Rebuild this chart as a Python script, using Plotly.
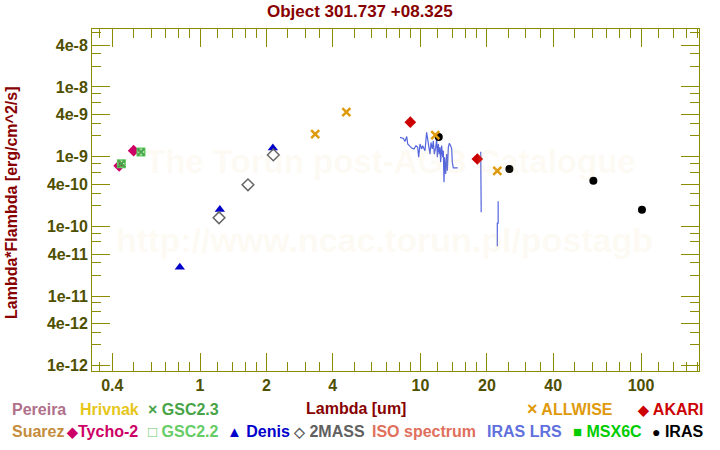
import plotly.graph_objects as go

# ---------------- data ----------------
tycho_lam = [0.43, 0.50]
tycho_f = [7.4e-10, 1.22e-9]
gsc23_lam = [0.44, 0.54]
gsc23_f = [7.9e-10, 1.17e-9]
gsc22_lam = [0.44, 0.54]
gsc22_f = [7.9e-10, 1.17e-9]
denis_lam = [0.81, 1.23, 2.14]
denis_f = [2.6e-11, 1.75e-10, 1.33e-9]
twomass_lam = [1.22, 1.65, 2.15]
twomass_f = [1.33e-10, 3.95e-10, 1.06e-9]
allwise_lam = [3.33, 4.61, 11.67, 22.3]
allwise_f = [2.11e-9, 4.35e-9, 2.04e-9, 6.25e-10]
akari_lam = [8.99, 18.1]
akari_f = [3.13e-9, 9.27e-10]
iras_lam = [12.1, 25.3, 60.8, 101]
iras_f = [1.91e-9, 6.67e-10, 4.5e-10, 1.73e-10]

lrs_lam = [8.07, 8.36, 8.51, 8.66, 8.75, 8.90, 9.12, 9.34, 9.54, 9.71, 9.81, 9.95,
           10.12, 10.23, 10.37, 10.48, 10.66, 10.85, 11.04, 11.16, 11.31, 11.43,
           11.55, 11.72, 11.84, 11.92, 12.05, 12.17, 12.26, 12.34, 12.47, 12.60,
           12.69, 12.78, 12.87, 13.01, 13.14, 13.24, 13.37, 13.51, 13.70, 13.85,
           13.94, 14.09, 14.75, None,
           18.75, 18.78, 18.85, None,
           22.5, 22.5, 22.3, 22.3]
lrs_f = [1.89e-9, 1.83e-9, 1.66e-9, 1.95e-9, 1.52e-9, 1.44e-9, 1.33e-9, 1.29e-9,
         1.44e-9, 1.36e-9, 9.8e-10, 1.52e-9, 1.29e-9, 1.44e-9, 1.29e-9, 1.22e-9,
         2.23e-9, 1.44e-9, 1.09e-9, 1.60e-9, 1.29e-9, 1.69e-9, 1.09e-9, 1.36e-9,
         1.79e-9, 9.8e-10, 1.52e-9, 1.09e-9, 1.36e-9, 8.3e-10, 1.44e-9, 9.8e-10,
         1.22e-9, 4.3e-10, 9.8e-10, 5.65e-10, 1.09e-9, 6.3e-10, 1.36e-9, 1.55e-9,
         1.44e-9, 1.29e-9, 8.3e-10, 6.9e-10, 6.9e-10, None,
         1.18e-9, 3.95e-10, 1.6e-10, None,
         2.3e-10, 1.11e-10, 1.11e-10, 5.2e-11]

x_major = [0.4, 1, 2, 4, 10, 20, 40, 100]
x_major_text = ["0.4", "1", "2", "4", "10", "20", "40", "100"]
x_minor = [0.35, 0.5, 0.6, 0.7, 0.8, 0.9, 1.2, 1.4, 1.6, 1.8, 2.5, 3, 3.5, 5, 6, 7, 8, 9,
           12, 14, 16, 18, 25, 30, 35, 50, 60, 70, 80, 90, 120, 140, 160, 180]
y_major = [4e-8, 1e-8, 4e-9, 1e-9, 4e-10, 1e-10, 4e-11, 1e-11, 4e-12, 1e-12]
y_major_text = ["4e-8", "1e-8", "4e-9", "1e-9", "4e-10", "1e-10", "4e-11", "1e-11",
                "4e-12", "1e-12"]
y_minor = []
for e in range(-13, -7):
    for m in (2, 3, 6, 8):
        y_minor.append(m * 10.0 ** e)

# ---------------- styling ----------------
FONT = "Liberation Sans"
OLIVE = "#8c8c00"
TICKC = "#4f4f00"
DRED = "#880000"
WATER = "rgba(225,205,135,0.10)"

L, R, T, B = 92, 699, 29, 371
W, H = 720, 450


def px(x):
    return (x - L) / (R - L)


def py(y):
    return (B - y) / (B - T)


fig = go.Figure()

fig.add_trace(go.Scatter(x=lrs_lam, y=lrs_f, mode="lines",
                         line=dict(color="#5566dd", width=1.2), connectgaps=False))

fig.add_trace(go.Scatter(x=tycho_lam, y=tycho_f, mode="markers",
                         marker=dict(symbol="diamond", size=9, color="#cc0066")))
fig.add_trace(go.Scatter(x=gsc22_lam, y=gsc22_f, mode="markers",
                         marker=dict(symbol="square-open", size=7, color="#66cc66",
                                     line=dict(width=2, color="#66cc66"))))
fig.add_trace(go.Scatter(x=gsc23_lam, y=gsc23_f, mode="markers",
                         marker=dict(symbol="x-thin", size=7, color="#47a447",
                                     line=dict(width=2, color="#47a447"))))
fig.add_trace(go.Scatter(x=denis_lam, y=denis_f, mode="markers",
                         marker=dict(symbol="triangle-up", size=9, color="#0000cc")))
fig.add_trace(go.Scatter(x=twomass_lam, y=twomass_f, mode="markers",
                         marker=dict(symbol="diamond-open", size=9, color="#666666",
                                     line=dict(width=1.5, color="#666666"))))
fig.add_trace(go.Scatter(x=iras_lam, y=iras_f, mode="markers",
                         marker=dict(symbol="circle", size=8, color="#000000")))
fig.add_trace(go.Scatter(x=allwise_lam, y=allwise_f, mode="markers",
                         marker=dict(symbol="x-thin", size=8, color="#df9a0c",
                                     line=dict(width=2.5, color="#df9a0c"))))
fig.add_trace(go.Scatter(x=akari_lam, y=akari_f, mode="markers",
                         marker=dict(symbol="diamond", size=9, color="#cc0000")))

ann = []
# watermark (semi-transparent so it does not hide the marks)
ann.append(dict(x=px(390), y=py(161), xref="paper", yref="paper", showarrow=False,
                text="The Torun post-AGB Catalogue",
                font=dict(family=FONT, size=33, color=WATER, weight="bold")))
ann.append(dict(x=px(384), y=py(261), xref="paper", yref="paper", showarrow=False,
                text="http://www.ncac.torun.pl/postagb",
                font=dict(family=FONT, size=34, color=WATER, weight="bold")))
# title
ann.append(dict(x=px(360), y=py(12), xref="paper", yref="paper", showarrow=False,
                text="Object 301.737 +08.325", xanchor="center", yanchor="middle",
                font=dict(family=FONT, size=17, color=DRED, weight="bold")))
# axis titles
ann.append(dict(x=px(356), y=py(408), xref="paper", yref="paper", showarrow=False,
                text="Lambda [um]", xanchor="center", yanchor="middle",
                font=dict(family=FONT, size=16, color=DRED, weight="bold")))
ann.append(dict(x=px(11), y=py(203), xref="paper", yref="paper", showarrow=False,
                text="Lambda*Flambda [erg/cm^2/s]", textangle=-90,
                xanchor="center", yanchor="middle",
                font=dict(family=FONT, size=16, color=DRED, weight="bold")))

legend_items = [
    (10, 409, "Pereira", "#b0708a"),
    (78, 409, "Hrivnak", "#e6c619"),
    (146, 409, "<span style='font-size:16px'>×</span> GSC2.3", "#47a447"),
    (525, 409, "<span style='font-size:18px'>×</span> ALLWISE", "#df9a0c"),
    (635, 409, "<span style='font-size:14px'>◆</span> AKARI", "#cc0000"),
    (10, 431, "Suarez", "#c48c3c"),
    (64, 431, "<span style='font-size:14px'>◆</span>Tycho-2", "#cc0066"),
    (146, 431, "<span style='font-size:15px'>□</span> GSC2.2", "#66cc66"),
    (225, 431, "<span style='font-size:15px'>▲</span> Denis", "#0000cc"),
    (291, 431, "<span style='font-size:14px'>◇</span> 2MASS", "#606060"),
    (370, 431, "ISO spectrum", "#e0705c"),
    (485, 431, "IRAS LRS", "#6070dd"),
    (571, 431, "<span style='font-size:15px'>■</span> MSX6C", "#00cc00"),
    (650, 431, "<span style='font-size:14px'>●</span> IRAS", "#000000"),
]
for x0, y0, txt, col in legend_items:
    ann.append(dict(x=px(x0), y=py(y0), xref="paper", yref="paper", showarrow=False,
                    text=txt, xanchor="left", yanchor="middle",
                    font=dict(family=FONT, size=16, color=col, weight="bold")))

axis_common = dict(
    type="log", showgrid=False, zeroline=False, showline=True, linecolor=OLIVE,
    linewidth=1, mirror="ticks", ticks="inside", ticklen=18, tickwidth=1,
    tickcolor=OLIVE, tickmode="array",
    tickfont=dict(family=FONT, size=16, color=TICKC, weight="bold"),
)

fig.update_layout(
    width=W, height=H, autosize=False,
    margin=dict(l=L, r=W - R, t=T, b=H - B),
    paper_bgcolor="white", plot_bgcolor="white",
    showlegend=False,
    xaxis=dict(**axis_common, range=[-0.4898, 2.263], tickvals=x_major,
               ticktext=x_major_text,
               minor=dict(tickmode="array", tickvals=x_minor, ticks="inside",
                          ticklen=9, tickcolor=OLIVE, tickwidth=1, showgrid=False)),
    yaxis=dict(**axis_common, range=[-12.075, -7.168], tickvals=y_major,
               ticktext=y_major_text,
               minor=dict(tickmode="array", tickvals=y_minor, ticks="inside",
                          ticklen=9, tickcolor=OLIVE, tickwidth=1, showgrid=False)),
    annotations=ann,
)

fig.write_html("out.html")
